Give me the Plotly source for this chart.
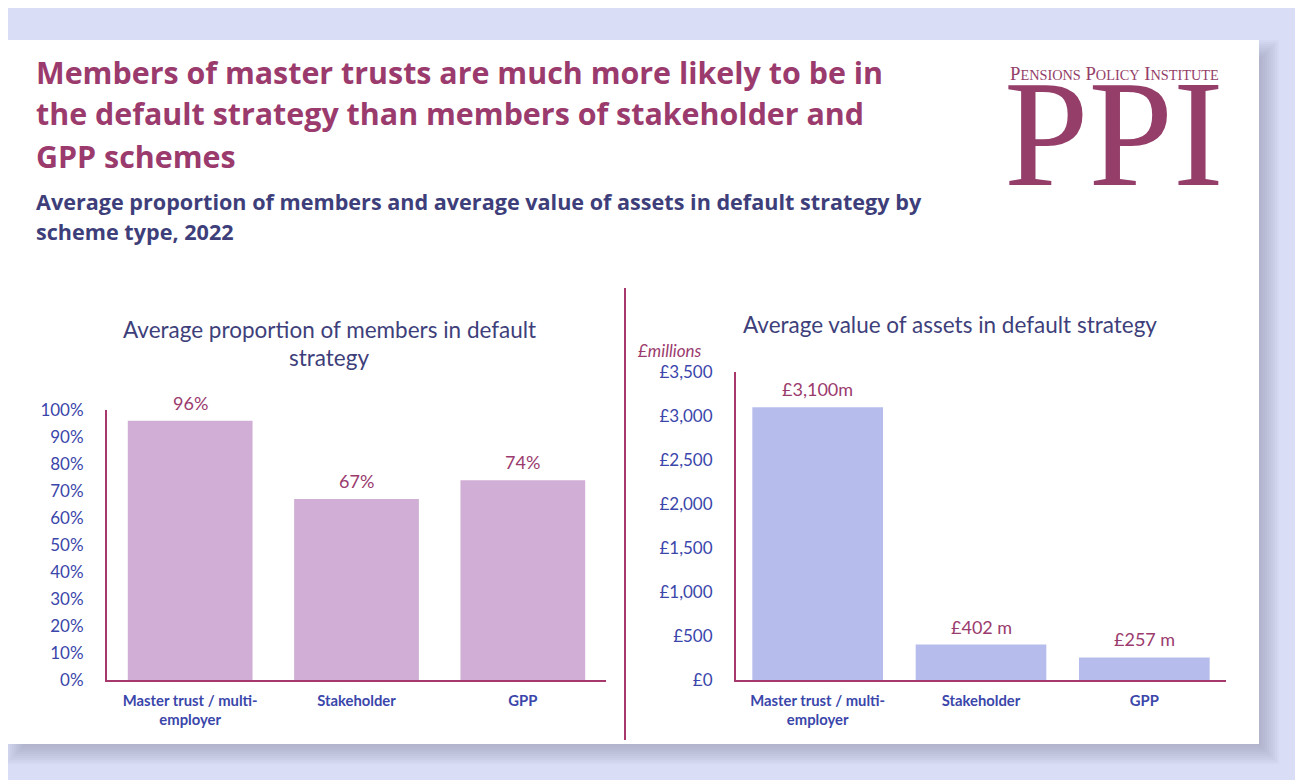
import plotly.graph_objects as go

# ---------------- data ----------------
categories = ["Master trust / multi-<br>employer", "Stakeholder", "GPP"]
members_pct = [96, 67, 74]
members_labels = ["96%", "67%", "74%"]
assets_m = [3100, 402, 257]
assets_labels = ["£3,100m", "£402 m", "£257 m"]
pct_ticks = list(range(0, 101, 10))
pct_ticktext = [f"{v}%" for v in pct_ticks]
asset_ticks = list(range(0, 3501, 500))
asset_ticktext = [f"£{v:,}" for v in asset_ticks]

title_lines = [
    "Members of master trusts are much more likely to be in",
    "the default strategy than members of stakeholder and",
    "GPP schemes",
]
subtitle_lines = [
    "Average proportion of members and average value of assets in default strategy by",
    "scheme type, 2022",
]

W, H = 1303, 780
OFF = 8  # page body margin in the browser
BG = "#D9DDF6"
MAROON = "#9B3B6D"
AXIS = "#A6386B"
TICK = "#3A46AA"
SLATE = "#3E3F7A"
CHART_FONT = "Lato"
HEAD_FONT = "Open Sans"


def px(x):
    return (x - OFF) / W


def py(y):
    return 1 - (y - OFF) / H


fig = go.Figure()

fig.add_trace(go.Bar(
    x=categories, y=members_pct, width=0.75,
    marker=dict(color="#D0AED5", line=dict(width=0)),
    xaxis="x", yaxis="y", hoverinfo="skip",
))
fig.add_trace(go.Bar(
    x=categories, y=assets_m, width=0.8,
    marker=dict(color="#B6BDEC", line=dict(width=0)),
    xaxis="x2", yaxis="y2", hoverinfo="skip",
))

xcommon = dict(showline=True, linecolor=AXIS, linewidth=2, showgrid=False,
               zeroline=False, ticks="", fixedrange=True, automargin=False,
               ticklabelstandoff=6,
               tickfont=dict(family=CHART_FONT, size=14.8, color=TICK, weight="bold"))
ycommon = dict(showline=True, linecolor=AXIS, linewidth=2, showgrid=False,
               zeroline=False, ticks="", fixedrange=True, automargin=False,
               ticklabelstandoff=18, tickmode="array",
               tickfont=dict(family=CHART_FONT, size=17, color=TICK))

fig.update_layout(
    width=W, height=H, margin=dict(l=0, r=0, t=0, b=0, pad=0, autoexpand=False),
    autosize=False,
    paper_bgcolor=BG, plot_bgcolor="rgba(0,0,0,0)", showlegend=False,
    xaxis=dict(domain=[px(107), px(606)], anchor="y", **xcommon),
    yaxis=dict(domain=[py(680), py(410)], anchor="x", range=[0, 100],
               tickvals=pct_ticks, ticktext=pct_ticktext, **ycommon),
    xaxis2=dict(domain=[px(736), px(1226)], anchor="y2", **xcommon),
    yaxis2=dict(domain=[py(680), py(372)], anchor="x2", range=[0, 3500],
                tickvals=asset_ticks, ticktext=asset_ticktext, **ycommon),
)

shapes = []
# soft shadow behind the card (stacked translucent rects)
for k in range(12):
    e = -12 + 2 * k
    shapes.append(dict(type="rect", xref="paper", yref="paper",
                       x0=px(6 + 10 - e), x1=px(1259 + 10 + e),
                       y0=py(744 + 10 + e), y1=py(40 + 10 - e),
                       fillcolor="rgba(110,112,140,0.045)", line=dict(width=0), layer="below"))
# card
shapes.append(dict(type="rect", xref="paper", yref="paper", x0=px(6), x1=px(1259),
                   y0=py(744), y1=py(40), fillcolor="white", line=dict(width=0), layer="below"))
# divider
shapes.append(dict(type="line", xref="paper", yref="paper", x0=px(625), x1=px(625),
                   y0=py(740), y1=py(288), line=dict(color=AXIS, width=2)))
fig.update_layout(shapes=shapes)

ann = []
# value labels above bars (data coordinates)
for cat, v, lab in zip(categories, members_pct, members_labels):
    ann.append(dict(text=lab, x=cat, y=v, xref="x", yref="y", xanchor="center",
                    yanchor="bottom", yshift=5, showarrow=False,
                    font=dict(family=CHART_FONT, size=18, color=MAROON)))
for cat, v, lab in zip(categories, assets_m, assets_labels):
    ann.append(dict(text=lab, x=cat, y=v, xref="x2", yref="y2", xanchor="center",
                    yanchor="bottom", yshift=5, showarrow=False,
                    font=dict(family=CHART_FONT, size=18, color=MAROON)))
for i, t in enumerate(title_lines):
    ann.append(dict(text=t, x=px(34), y=py(72 + 42 * i), xref="paper", yref="paper",
                    xanchor="left", yanchor="middle", showarrow=False,
                    font=dict(family=HEAD_FONT, size=30.4, color=MAROON, weight="bold")))
for i, t in enumerate(subtitle_lines):
    ann.append(dict(text=t, x=px(34), y=py(201 + 31 * i), xref="paper", yref="paper",
                    xanchor="left", yanchor="middle", showarrow=False,
                    font=dict(family=HEAD_FONT, size=21.6, color=SLATE, weight="bold")))
# chart titles
for i, t in enumerate(["Average proportion of members in default", "strategy"]):
    ann.append(dict(text=t, x=px(329), y=py(329 + 29 * i), xref="paper", yref="paper",
                    xanchor="center", yanchor="middle", showarrow=False,
                    font=dict(family=CHART_FONT, size=22.5, color=SLATE)))
ann.append(dict(text="Average value of assets in default strategy", x=px(950), y=py(324),
                xref="paper", yref="paper", xanchor="center", yanchor="middle", showarrow=False,
                font=dict(family=CHART_FONT, size=22.5, color=SLATE)))
ann.append(dict(text="<i>£millions</i>", x=px(636), y=py(350), xref="paper", yref="paper",
                xanchor="left", yanchor="middle", showarrow=False,
                font=dict(family=CHART_FONT, size=17, color=MAROON)))
# logo
small = "font-size:14.3px"
logo_small = ("P<span style='%s'>ENSIONS</span> P<span style='%s'>OLICY</span> "
              "I<span style='%s'>NSTITUTE</span>") % (small, small, small)
ann.append(dict(text=logo_small, x=px(1114), y=py(73), xref="paper", yref="paper",
                xanchor="center", yanchor="middle", showarrow=False,
                font=dict(family="Liberation Serif", size=18.7, color="#943E69")))
ann.append(dict(text="PPI", x=px(1114), y=py(134), xref="paper", yref="paper",
                xanchor="center", yanchor="middle", showarrow=False,
                font=dict(family="Liberation Serif", size=152, color="#943E69")))
fig.update_layout(annotations=ann)

fig.write_html("out.html")
